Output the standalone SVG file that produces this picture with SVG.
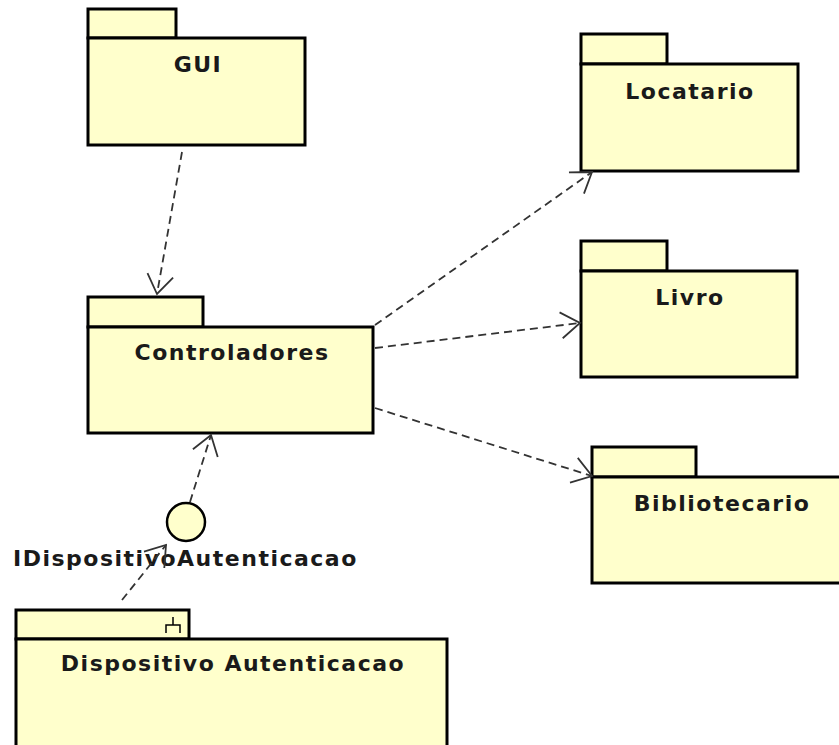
<svg xmlns="http://www.w3.org/2000/svg" width="839" height="745" viewBox="0 0 839 745">
<style>
.pkg{fill:#ffffcc;stroke:#000;stroke-width:3}
.lbl{font-family:"DejaVu Sans",Verdana,sans-serif;font-weight:bold;font-size:22px;letter-spacing:1.5px;fill:#1a1a1a;text-anchor:middle}
.dep{fill:none;stroke:#333;stroke-width:1.8;stroke-dasharray:8,5;marker-end:url(#open)}
</style>
<defs>
<marker id="open" viewBox="-22 -15 24 30" refX="0" refY="0" markerWidth="24" markerHeight="30" markerUnits="userSpaceOnUse" orient="auto">
<path d="M-19,-13 L0,0 L-19,13" fill="none" stroke="#333" stroke-width="1.8" stroke-dasharray="none"/>
</marker>
</defs>
<rect width="839" height="745" fill="#fff"/>
<g id="GUI">
<rect class="pkg" x="88" y="9" width="88" height="29"/>
<rect class="pkg" x="88" y="38" width="217" height="107"/>
<text class="lbl" x="198" y="72">GUI</text>
</g>
<g id="Locatario">
<rect class="pkg" x="581" y="34" width="86" height="30"/>
<rect class="pkg" x="581" y="64" width="217" height="107"/>
<text class="lbl" x="690" y="99">Locatario</text>
</g>
<g id="Controladores">
<rect class="pkg" x="88" y="297" width="115" height="30"/>
<rect class="pkg" x="88" y="327" width="285" height="106"/>
<text class="lbl" x="232" y="360">Controladores</text>
</g>
<g id="Livro">
<rect class="pkg" x="581" y="241" width="86" height="30"/>
<rect class="pkg" x="581" y="271" width="216" height="106"/>
<text class="lbl" x="690" y="305">Livro</text>
</g>
<g id="Bibliotecario">
<rect class="pkg" x="592" y="447" width="104" height="30"/>
<rect class="pkg" x="592" y="477" width="260" height="106"/>
<text class="lbl" x="722" y="511">Bibliotecario</text>
</g>
<g id="DispositivoAutenticacao">
<rect class="pkg" x="16" y="610" width="173" height="29"/>
<rect class="pkg" x="16" y="639" width="431" height="112"/>
<path d="M173,617 V625 M166,633 V625 H180 V633" fill="none" stroke="#000" stroke-width="1.5"/>
<text class="lbl" x="233" y="671">Dispositivo Autenticacao</text>
</g>
<g id="IDispositivoAutenticacao">
<circle cx="186" cy="522" r="19" fill="#ffffcc" stroke="#000" stroke-width="2.5"/>
<text class="lbl" x="13" y="566" style="text-anchor:start">IDispositivoAutenticacao</text>
</g>
<g id="connectors">
<path class="dep" d="M182,152 L157,294"/>
<path class="dep" d="M375,325 L592,172"/>
<path class="dep" d="M375,348 L580,323"/>
<path class="dep" d="M375,408 L592,476"/>
<path class="dep" d="M190,502 L211,435"/>
<path class="dep" d="M122,600 L166,545"/>
</g>
</svg>
